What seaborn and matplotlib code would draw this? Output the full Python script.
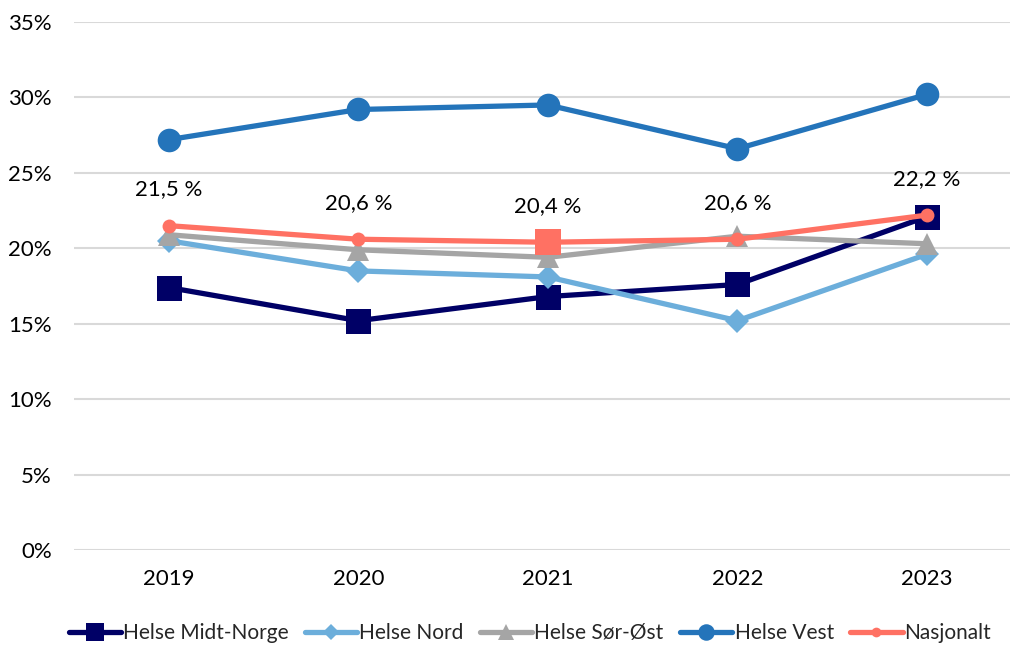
import matplotlib
matplotlib.use("Agg")
import matplotlib.pyplot as plt
import seaborn as sns
import pandas as pd
from matplotlib.ticker import FuncFormatter

years = ["2019", "2020", "2021", "2022", "2023"]
midt_norge = [17.4, 15.2, 16.8, 17.6, 22.1]
nord = [20.5, 18.5, 18.1, 15.2, 19.6]
sor_ost = [20.9, 19.9, 19.4, 20.8, 20.3]
vest = [27.2, 29.2, 29.5, 26.6, 30.2]
nasjonalt = [21.5, 20.6, 20.4, 20.6, 22.2]
label_years = ["2019", "2020", "2021", "2022", "2023"]

series = [
    ("Helse Midt-Norge", midt_norge, "#000066", "s", 18),
    ("Helse Nord", nord, "#6CAEDB", "D", 12),
    ("Helse Sør-Øst", sor_ost, "#A5A5A5", "^", 16),
    ("Helse Vest", vest, "#2474BA", "o", 17),
    ("Nasjonalt", nasjonalt, "#FF7163", "o", 10),
]

sns.set_theme(style="white")
plt.rcParams["font.family"] = ["Lato", "DejaVu Sans"]

fig = plt.figure(figsize=(10.1, 6.46), dpi=100)
ax = fig.add_axes([74 / 1010, 96 / 646, (1010 - 74) / 1010, (550 - 22) / 646])

xs = list(range(len(years)))
for name, vals, color, marker, ms in series:
    df = pd.DataFrame({"x": xs, "y": [v / 100 for v in vals]})
    sns.lineplot(data=df, x="x", y="y", ax=ax, color=color, linewidth=3.8,
                 marker=marker, markersize=ms, markeredgecolor=color,
                 markeredgewidth=0, label=name, clip_on=False)

# Nasjonalt 2021 uses a square marker in the reference
idx = years.index("2021")
sq = pd.DataFrame({"x": [idx], "y": [nasjonalt[idx] / 100]})
sns.scatterplot(data=sq, x="x", y="y", ax=ax, marker="s", s=350,
                color="#FF7163", edgecolor="none", zorder=10, legend=False)

# data labels for Nasjonalt
for i, v in enumerate(nasjonalt):
    if years[i] in label_years:
        ax.annotate(f"{v:.1f} %".replace(".", ","), (i, v / 100),
                    xytext=(0, 26), textcoords="offset points",
                    ha="center", va="center", fontsize=16, color="black")

ax.set_xlim(-0.5, (1010 - 169) / 189.5)
ax.set_ylim(0, 0.35)
ax.set_xticks(xs)
ax.set_xticklabels(years)
ax.set_yticks([i * 0.05 for i in range(8)])
ax.yaxis.set_major_formatter(FuncFormatter(lambda v, p: f"{v*100:.0f}%"))
ax.tick_params(axis="both", labelsize=16, colors="black", length=0)
ax.tick_params(axis="x", pad=14)
ax.tick_params(axis="y", pad=16)
ax.grid(axis="y", color="#D9D9D9", linewidth=1.5)
ax.grid(axis="x", visible=False)
for s in ax.spines.values():
    s.set_visible(False)
ax.set_xlabel("")
ax.set_ylabel("")
ax.set_axisbelow(True)

h, l = ax.get_legend_handles_labels()
ax.get_legend().remove()
fig.legend(h, l, loc="center", bbox_to_anchor=(530 / 1010, 1 - 633 / 646),
           ncol=5, frameon=False, fontsize=15, handlelength=2.5,
           handletextpad=0.1, columnspacing=0.8, markerscale=0.7,
           borderaxespad=0, borderpad=0)

fig.savefig("out.png", dpi=100)
